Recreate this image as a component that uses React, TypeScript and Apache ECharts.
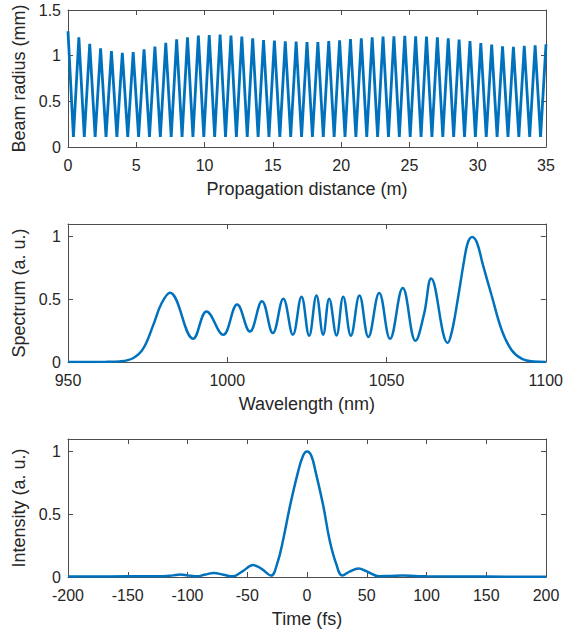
import React, { useEffect, useRef } from "react";
import * as echarts from "echarts";

// ---- Panel 1: beam radius vs propagation distance ----
const beamPeriod = 35 / 44; // peak spacing (m)
const beamPeaks = [
  1.267, 1.2, 1.13, 1.08, 1.05, 1.03, 1.04, 1.07, 1.1, 1.14, 1.18, 1.2, 1.22,
  1.226, 1.23, 1.22, 1.21, 1.19, 1.17, 1.165, 1.158, 1.155, 1.15, 1.15, 1.161,
  1.169, 1.183, 1.19, 1.201, 1.209, 1.212, 1.216, 1.212, 1.209, 1.201, 1.19,
  1.176, 1.161, 1.139, 1.121, 1.103, 1.096, 1.107, 1.114, 1.125,
];
const beamMinima = [
  0.11, 0.11, 0.11, 0.11, 0.11, 0.11, 0.11, 0.11, 0.11, 0.11, 0.11, 0.11,
  0.11, 0.11, 0.11, 0.11, 0.11, 0.11, 0.11, 0.11, 0.11, 0.11, 0.11, 0.11,
  0.11, 0.11, 0.11, 0.11, 0.11, 0.11, 0.11, 0.11, 0.11, 0.11, 0.11, 0.11,
  0.11, 0.11, 0.11, 0.11, 0.11, 0.11, 0.11, 0.11,
];

// ---- Panel 2: spectrum ----
const specWavelength = [
  950, 962, 966.2, 970.4, 973.6, 976.7, 979.3, 982, 989.3, 993.5, 998.7,
  1003.1, 1007.1, 1010.9, 1014.3, 1017.6, 1020.6, 1023.3, 1025.7, 1028,
  1030.1, 1032, 1034.3, 1036.4, 1038.8, 1041.5, 1044.3, 1047.7, 1051.1,
  1055.1, 1059.1, 1061.8, 1064, 1069.2, 1070.6, 1072.5, 1074.3, 1075.5,
  1076.9, 1078.4, 1080.2, 1083, 1086.2, 1089.3, 1092.4, 1096, 1100,
];
const specValue = [
  0, 0.001, 0.005, 0.03, 0.106, 0.29, 0.464, 0.552, 0.186, 0.403, 0.217,
  0.458, 0.243, 0.485, 0.231, 0.504, 0.218, 0.52, 0.21, 0.53, 0.218, 0.505,
  0.212, 0.52, 0.21, 0.53, 0.2, 0.55, 0.185, 0.59, 0.17, 0.385, 0.665, 0.152,
  0.252, 0.52, 0.8, 0.95, 0.997, 0.95, 0.78, 0.53, 0.252, 0.093,
  0.027, 0.004, 0,
];

// ---- Panel 3: temporal intensity ----
const pulseTime = [
  -200, -150, -120, -112, -106, -100, -92, -85, -78, -70, -62, -54, -45, -38,
  -30, -24.9, -20, -14.3, -7.7, -3.4, 0, 3.7, 7.4, 13.7, 18.9, 24.3, 29.5, 36,
  43, 50, 60, 70, 80, 90, 100, 150, 200,
];
const pulseValue = [
  0.004, 0.005, 0.006, 0.013, 0.019, 0.013, 0.005, 0.02, 0.032, 0.018, 0.005,
  0.045, 0.095, 0.065, 0.012, 0.108, 0.295, 0.563, 0.83, 0.965, 1.0, 0.965,
  0.83, 0.563, 0.295, 0.108, 0.012, 0.045, 0.068, 0.045, 0.006, 0.008, 0.011,
  0.008, 0.005, 0.003, 0.002,
];

const LINE = "#0072BD";
const AXIS = "#4d4d4d";
const TEXT = "#262626";
const FONT = 'Arial, "Liberation Sans", Helvetica, sans-serif';

function buildBeam(): number[][] {
  const pts: number[][] = [];
  for (let k = 0; k < beamPeaks.length; k++) {
    pts.push([k * beamPeriod, beamPeaks[k]]);
    if (k < beamMinima.length) pts.push([(k + 0.5) * beamPeriod, beamMinima[k]]);
  }
  return pts;
}

function zip(a: number[], b: number[]): number[][] {
  return a.map((v, i) => [v, b[i]]);
}

const grids = [
  { left: 68, right: 20, top: 10, height: 137 },
  { left: 68, right: 20, top: 224, height: 138 },
  { left: 68, right: 20, top: 439, height: 138 },
];

const panels = [
  { xMin: 0, xMax: 35, xInt: 5, yMax: 1.5, xName: "Propagation distance (m)", yName: "Beam radius (mm)", hideMax: false },
  { xMin: 950, xMax: 1100, xInt: 50, yMax: 1.1, xName: "Wavelength (nm)", yName: "Spectrum (a. u.)", hideMax: true },
  { xMin: -200, xMax: 200, xInt: 50, yMax: 1.1, xName: "Time (fs)", yName: "Intensity (a. u.)", hideMax: true },
];

const plain = (v: number) => String(v);

export default function App() {
  const ref = useRef<HTMLDivElement>(null);
  useEffect(() => {
    document.body.style.margin = "0";
    if (!ref.current) return;
    const chart = echarts.init(ref.current, undefined, { renderer: "svg" });
    const xAxes: any[] = [];
    const yAxes: any[] = [];
    panels.forEach((p, i) => {
      const common = {
        type: "value",
        gridIndex: i,
        axisLine: { show: true, onZero: false, lineStyle: { color: AXIS, width: 1 } },
        axisTick: { show: true, inside: true, length: 5, lineStyle: { color: AXIS, width: 1 } },
        splitLine: { show: false },
      };
      xAxes.push({
        ...common,
        position: "bottom",
        min: p.xMin,
        max: p.xMax,
        interval: p.xInt,
        axisLabel: { margin: 10, fontSize: 16, color: TEXT, fontFamily: FONT, formatter: plain },
        name: p.xName,
        nameLocation: "middle",
        nameGap: 33,
        nameTextStyle: { fontSize: 18, color: TEXT, fontFamily: FONT },
      });
      xAxes.push({
        ...common,
        position: "top",
        min: p.xMin,
        max: p.xMax,
        interval: p.xInt,
        axisLabel: { show: false },
      });
      yAxes.push({
        ...common,
        position: "left",
        min: 0,
        max: p.yMax,
        interval: 0.5,
        axisLabel: { margin: 7, fontSize: 16, color: TEXT, fontFamily: FONT, showMaxLabel: !p.hideMax, formatter: plain },
        name: p.yName,
        nameLocation: "middle",
        nameGap: 40,
        nameTextStyle: { fontSize: 18, color: TEXT, fontFamily: FONT },
      });
      yAxes.push({
        ...common,
        position: "right",
        min: 0,
        max: p.yMax,
        interval: 0.5,
        axisLabel: { show: false },
      });
    });
    chart.setOption({
      animation: false,
      backgroundColor: "#ffffff",
      grid: grids,
      xAxis: xAxes,
      yAxis: yAxes,
      series: [
        {
          type: "line",
          xAxisIndex: 0,
          yAxisIndex: 0,
          data: buildBeam(),
          showSymbol: false,
          lineStyle: { color: LINE, width: 2.8 },
        },
        {
          type: "line",
          xAxisIndex: 2,
          yAxisIndex: 2,
          data: zip(specWavelength, specValue),
          showSymbol: false,
          smooth: 0.4,
          lineStyle: { color: LINE, width: 2.5 },
        },
        {
          type: "line",
          xAxisIndex: 4,
          yAxisIndex: 4,
          data: zip(pulseTime, pulseValue),
          showSymbol: false,
          smooth: 0.4,
          lineStyle: { color: LINE, width: 2.5 },
        },
      ],
    });
    return () => chart.dispose();
  }, []);
  return <div ref={ref} style={{ width: 566, height: 639 }} />;
}
